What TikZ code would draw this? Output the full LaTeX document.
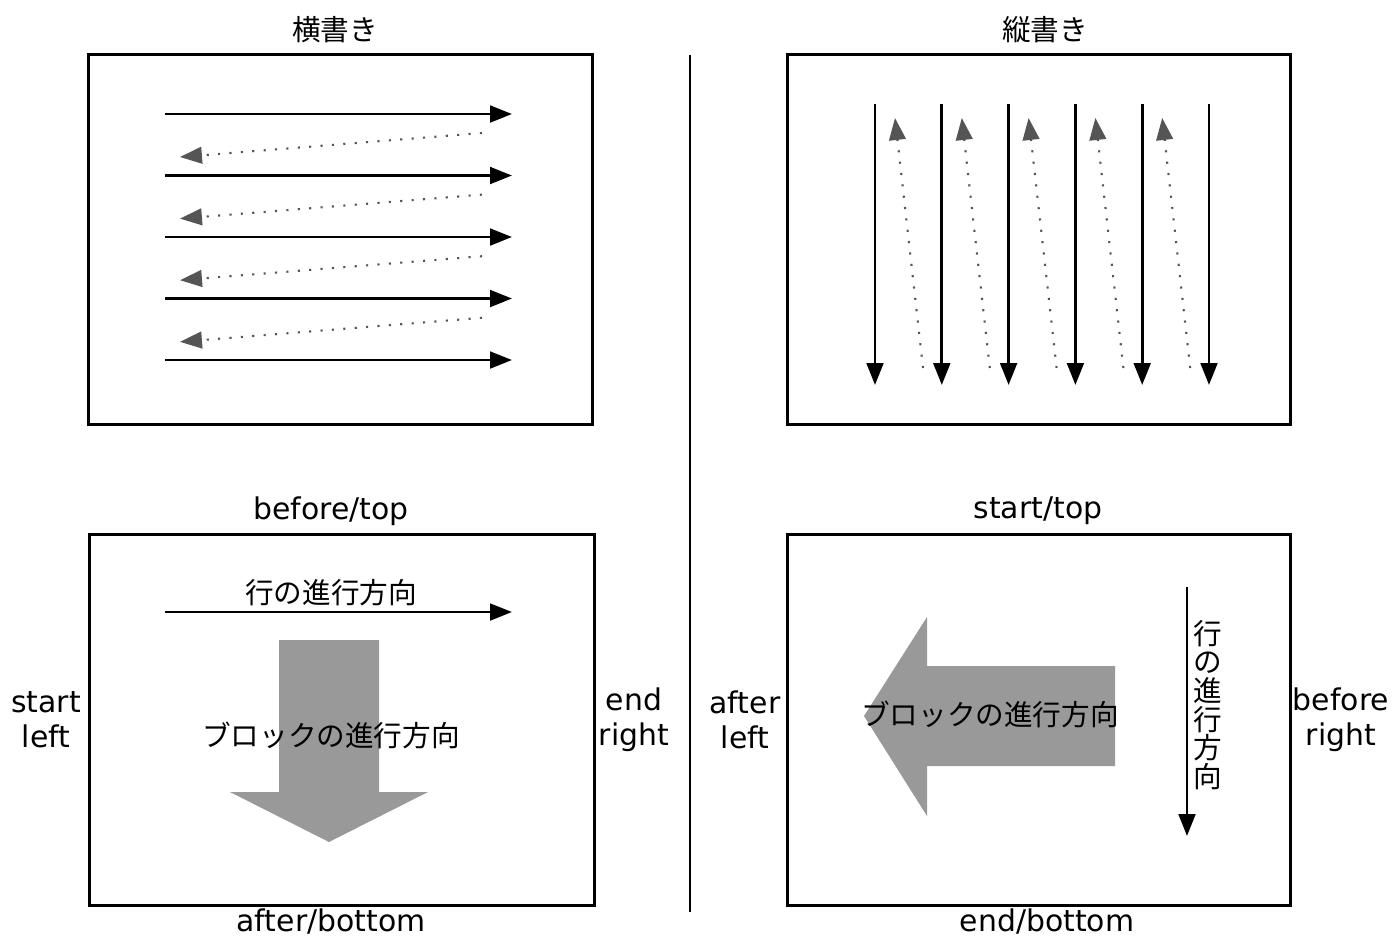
\documentclass[tikz,border=0pt]{standalone}
\usepackage{fontspec}
\setmainfont{Noto Sans CJK JP}
\newfontfamily\latinfont{DejaVu Sans}
\usetikzlibrary{arrows.meta}
\definecolor{dotgray}{HTML}{555555}
\definecolor{biggray}{HTML}{999999}
\begin{document}
\begin{tikzpicture}[x=0.02cm,y=-0.02cm,
  jp/.style={font=\fontsize{16.3}{19.8}\selectfont, inner sep=0pt},
  lat/.style={font=\latinfont\fontsize{17}{19.8}\selectfont, inner sep=0pt, align=center},
  box/.style={draw, line width=1.6pt},
  solidarr/.style={line width=1.6pt, -{Triangle[length=12.5pt,width=9.5pt]}},
  dotarr/.style={draw=dotgray, line width=1.2pt, dash pattern=on 1.2pt off 5.3pt,
     -{Triangle[length=12.5pt,width=9.5pt,color=dotgray]}},
  bigarrow/.style={fill=biggray, draw=none}]
\useasboundingbox (0,0) rectangle (1394,938);

% boxes
\node[box, minimum width=504*0.02cm, minimum height=370*0.02cm, anchor=north west, inner sep=0pt] (tl) at (87,53) {};
\node[box, minimum width=503*0.02cm, minimum height=370*0.02cm, anchor=north west, inner sep=0pt] (tr) at (786,53) {};
\node[box, minimum width=505*0.02cm, minimum height=371*0.02cm, anchor=north west, inner sep=0pt] (bl) at (88,533) {};
\node[box, minimum width=503*0.02cm, minimum height=371*0.02cm, anchor=north west, inner sep=0pt] (br) at (786,533) {};

% divider
\coordinate (d1) at (690,55);
\coordinate (d2) at (690,912);
\draw[line width=1.6pt] (d1) -- (d2);

% titles
\node[jp] (t1) at (335,30) {横書き};
\node[jp] (t2) at (1045,30) {縦書き};

% top-left: horizontal writing
\foreach \i in {0,...,4} {
  \coordinate (hs\i) at (165,114+61.5*\i);
  \coordinate (he\i) at (512,114+61.5*\i);
  \draw[solidarr] (hs\i) -- (he\i);
}
\foreach \i in {0,...,3} {
  \coordinate (ds\i) at (482,133+61.6*\i);
  \coordinate (de\i) at (180,157+61.6*\i);
  \draw[dotarr] (ds\i) -- (de\i);
}

% top-right: vertical writing
\foreach \i in {0,...,5} {
  \coordinate (vs\i) at (875+66.8*\i,104);
  \coordinate (ve\i) at (875+66.8*\i,385);
  \draw[solidarr] (vs\i) -- (ve\i);
}
\foreach \i in {0,...,4} {
  \coordinate (ws\i) at (923+66.8*\i,368);
  \coordinate (we\i) at (895+66.8*\i,118);
  \draw[dotarr] (ws\i) -- (we\i);
}

% bottom-left labels
\node[lat] (bt1) at (331,511) {before/top};
\node[lat] (bb1) at (331,922) {after/bottom};
\node[lat] (bs1) at (46,720) {start\\left};
\node[lat] (be1) at (634,720) {end\\right};

% bottom-left content
\coordinate (la) at (165,612);
\coordinate (lb) at (512,612);
\draw[solidarr] (la) -- (lb);
\node[jp] (lineL) at (331,593) {行の進行方向};
\fill[bigarrow] (279,640) -- (379,640) -- (379,792) -- (428,792) -- (329,842) -- (230,792) -- (279,792) -- cycle;
\node[jp] (blockL) at (331,735) {ブロックの進行方向};

% bottom-right labels
\node[lat] (bt2) at (1038,511) {start/top};
\node[lat] (bb2) at (1047,922) {end/bottom};
\node[lat] (ba2) at (745,720) {after\\left};
\node[lat] (bf2) at (1341,720) {before\\right};

% bottom-right content
\fill[bigarrow] (1115,666) -- (927,666) -- (927,617) -- (864,716) -- (927,816) -- (927,766) -- (1115,766) -- cycle;
\node[jp] (blockR) at (990,714) {ブロックの進行方向};
\coordinate (va) at (1187,587);
\coordinate (vb) at (1187,836);
\draw[solidarr] (va) -- (vb);
\node[jp, align=center, font=\fontsize{16.3}{16.3}\selectfont] (lineR) at (1208,705) {行\\の\\進\\行\\方\\向};
\end{tikzpicture}
\end{document}
